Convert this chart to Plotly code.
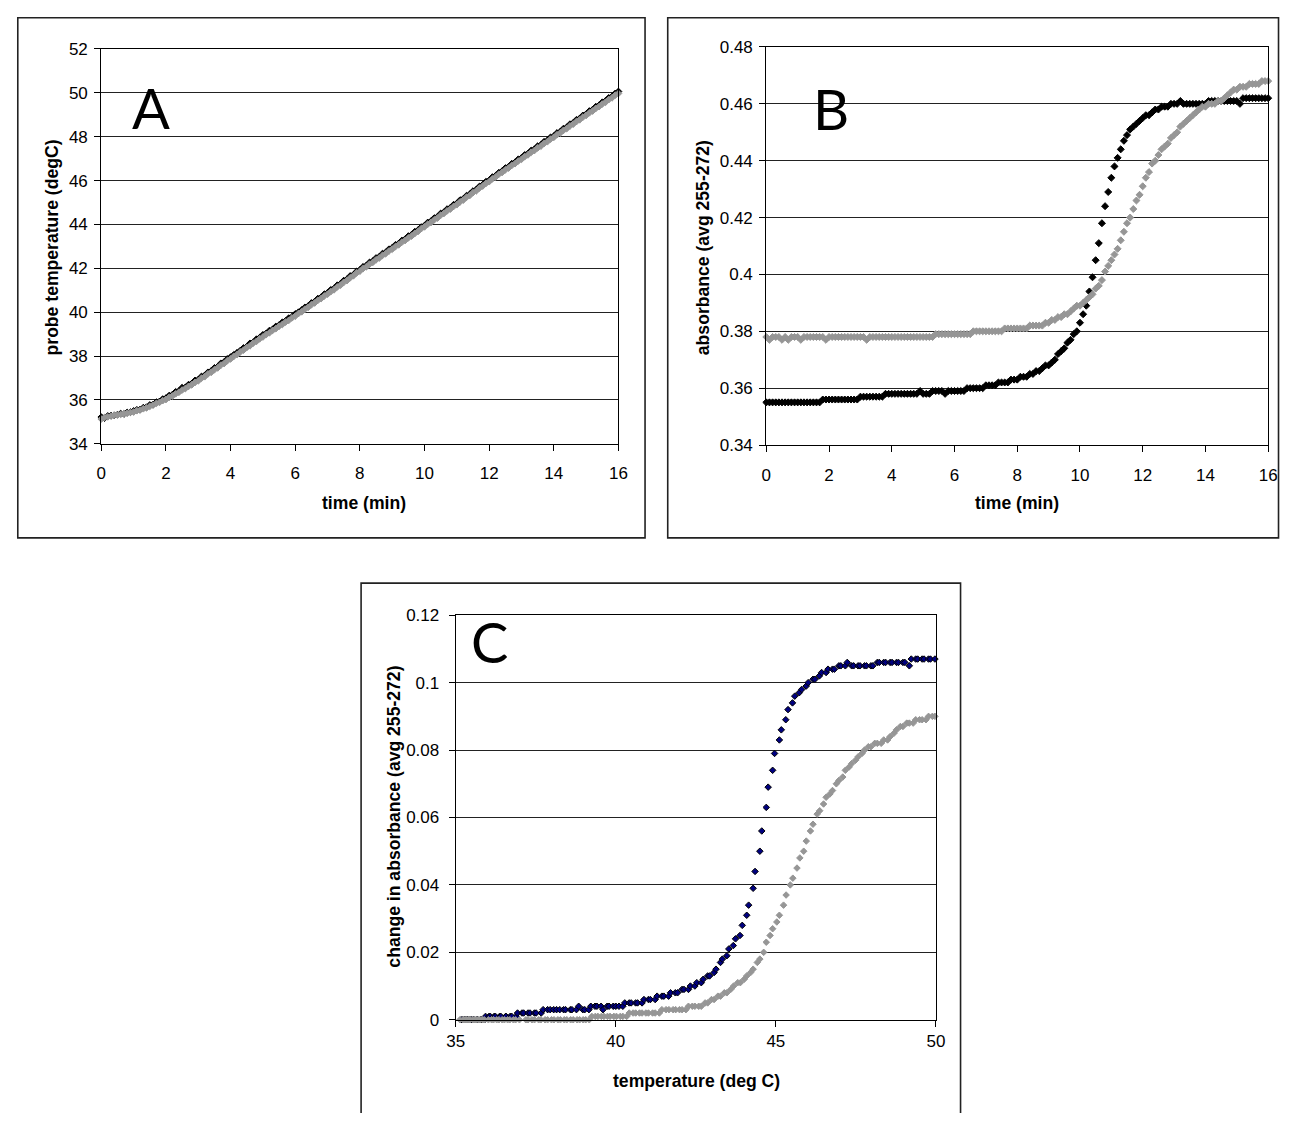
import plotly.graph_objects as go

# ---------------- data ----------------
TIME_MIN = [
    0.0, 0.1, 0.2, 0.3, 0.4, 0.5, 0.6, 0.7, 0.8, 0.9,
    1.0, 1.1, 1.2, 1.3, 1.4, 1.5, 1.6, 1.7, 1.8, 1.9,
    2.0, 2.1, 2.2, 2.3, 2.4, 2.5, 2.6, 2.7, 2.8, 2.9,
    3.0, 3.1, 3.2, 3.3, 3.4, 3.5, 3.6, 3.7, 3.8, 3.9,
    4.0, 4.1, 4.2, 4.3, 4.4, 4.5, 4.6, 4.7, 4.8, 4.9,
    5.0, 5.1, 5.2, 5.3, 5.4, 5.5, 5.6, 5.7, 5.8, 5.9,
    6.0, 6.1, 6.2, 6.3, 6.4, 6.5, 6.6, 6.7, 6.8, 6.9,
    7.0, 7.1, 7.2, 7.3, 7.4, 7.5, 7.6, 7.7, 7.8, 7.9,
    8.0, 8.1, 8.2, 8.3, 8.4, 8.5, 8.6, 8.7, 8.8, 8.9,
    9.0, 9.1, 9.2, 9.3, 9.4, 9.5, 9.6, 9.7, 9.8, 9.9,
    10.0, 10.1, 10.2, 10.3, 10.4, 10.5, 10.6, 10.7, 10.8, 10.9,
    11.0, 11.1, 11.2, 11.3, 11.4, 11.5, 11.6, 11.7, 11.8, 11.9,
    12.0, 12.1, 12.2, 12.3, 12.4, 12.5, 12.6, 12.7, 12.8, 12.9,
    13.0, 13.1, 13.2, 13.3, 13.4, 13.5, 13.6, 13.7, 13.8, 13.9,
    14.0, 14.1, 14.2, 14.3, 14.4, 14.5, 14.6, 14.7, 14.8, 14.9,
    15.0, 15.1, 15.2, 15.3, 15.4, 15.5, 15.6, 15.7, 15.8, 15.9,
    16.0,
]

# probe temperature (degC), black sample
TEMP_BLACK = [
    35.22, 35.17, 35.27, 35.29, 35.30, 35.33, 35.38, 35.36, 35.43, 35.45,
    35.50, 35.55, 35.57, 35.65, 35.67, 35.77, 35.79, 35.90, 35.93, 36.04,
    36.08, 36.20, 36.24, 36.37, 36.41, 36.56, 36.57, 36.70, 36.75, 36.89,
    36.93, 37.07, 37.12, 37.26, 37.32, 37.46, 37.51, 37.67, 37.73, 37.87,
    37.95, 38.06, 38.15, 38.25, 38.37, 38.43, 38.58, 38.63, 38.77, 38.84,
    38.97, 39.03, 39.16, 39.22, 39.35, 39.41, 39.54, 39.60, 39.73, 39.79,
    39.92, 40.00, 40.10, 40.22, 40.28, 40.42, 40.48, 40.62, 40.68, 40.82,
    40.88, 41.02, 41.08, 41.23, 41.29, 41.44, 41.50, 41.65, 41.71, 41.86,
    41.93, 42.07, 42.13, 42.27, 42.33, 42.47, 42.53, 42.67, 42.73, 42.87,
    42.93, 43.07, 43.13, 43.27, 43.33, 43.47, 43.53, 43.67, 43.74, 43.88,
    43.95, 44.09, 44.15, 44.29, 44.35, 44.50, 44.56, 44.70, 44.76, 44.90,
    44.96, 45.11, 45.17, 45.31, 45.38, 45.52, 45.59, 45.73, 45.81, 45.95,
    46.01, 46.16, 46.22, 46.36, 46.43, 46.57, 46.63, 46.77, 46.83, 46.97,
    47.03, 47.17, 47.23, 47.37, 47.43, 47.57, 47.63, 47.77, 47.83, 47.97,
    48.03, 48.17, 48.23, 48.37, 48.43, 48.57, 48.63, 48.77, 48.83, 48.97,
    49.03, 49.17, 49.23, 49.37, 49.43, 49.57, 49.63, 49.77, 49.83, 49.97,
    50.06,
]

# probe temperature (degC), grey sample
TEMP_GREY = [
    35.13, 35.20, 35.23, 35.26, 35.31, 35.31, 35.34, 35.38, 35.39, 35.43,
    35.45, 35.51, 35.54, 35.60, 35.64, 35.71, 35.76, 35.84, 35.89, 35.97,
    36.02, 36.12, 36.18, 36.28, 36.35, 36.45, 36.52, 36.62, 36.69, 36.80,
    36.87, 36.99, 37.06, 37.19, 37.26, 37.38, 37.46, 37.59, 37.66, 37.79,
    37.87, 37.99, 38.07, 38.19, 38.27, 38.39, 38.47, 38.59, 38.67, 38.79,
    38.87, 38.98, 39.06, 39.17, 39.25, 39.36, 39.44, 39.55, 39.63, 39.74,
    39.82, 39.94, 40.02, 40.14, 40.22, 40.34, 40.42, 40.54, 40.62, 40.74,
    40.82, 40.94, 41.02, 41.15, 41.23, 41.36, 41.44, 41.57, 41.66, 41.79,
    41.87, 41.99, 42.07, 42.19, 42.27, 42.39, 42.47, 42.59, 42.67, 42.79,
    42.87, 42.99, 43.07, 43.19, 43.27, 43.39, 43.47, 43.59, 43.68, 43.81,
    43.89, 44.01, 44.09, 44.21, 44.29, 44.42, 44.50, 44.62, 44.70, 44.82,
    44.90, 45.03, 45.11, 45.24, 45.32, 45.45, 45.53, 45.66, 45.75, 45.87,
    45.95, 46.08, 46.16, 46.29, 46.37, 46.49, 46.57, 46.69, 46.77, 46.89,
    46.97, 47.09, 47.17, 47.29, 47.37, 47.49, 47.57, 47.69, 47.77, 47.89,
    47.97, 48.09, 48.17, 48.29, 48.37, 48.49, 48.57, 48.69, 48.77, 48.89,
    48.97, 49.09, 49.17, 49.29, 49.37, 49.49, 49.57, 49.69, 49.77, 49.89,
    49.97,
]

# absorbance (avg 255-272) in milli-absorbance units, black sample
ABS_BLACK_MAU = [
    355, 355, 355, 355, 355, 355, 355, 355, 355, 355,
    355, 355, 355, 355, 355, 355, 355, 355, 356, 356,
    356, 356, 356, 356, 356, 356, 356, 356, 356, 356,
    357, 357, 357, 357, 357, 357, 357, 357, 358, 358,
    358, 358, 358, 358, 358, 358, 358, 358, 358, 359,
    358, 358, 358, 359, 359, 359, 359, 358, 359, 359,
    359, 359, 359, 359, 360, 360, 360, 360, 360, 360,
    361, 361, 361, 361, 362, 362, 362, 362, 363, 363,
    363, 364, 364, 364, 365, 365, 366, 366, 367, 368,
    368, 369, 370, 372, 373, 374, 376, 377, 379, 380,
    383, 386, 389, 394, 399, 405, 411, 418, 424, 429,
    434, 438, 441, 444, 447, 449, 451, 452, 453, 454,
    455, 456, 456, 457, 458, 458, 459, 459, 459, 460,
    460, 460, 461, 460, 460, 460, 460, 460, 460, 460,
    460, 461, 461, 461, 461, 461, 461, 461, 461, 461,
    461, 460, 462, 462, 462, 462, 462, 462, 462, 462,
    462,
]

# absorbance (avg 255-272) in milli-absorbance units, grey sample
ABS_GREY_MAU = [
    378, 377, 378, 378, 378, 377, 378, 377, 378, 378,
    378, 377, 378, 378, 378, 378, 378, 378, 378, 377,
    378, 378, 378, 378, 378, 378, 378, 378, 378, 378,
    378, 378, 377, 378, 378, 378, 378, 378, 378, 378,
    378, 378, 378, 378, 378, 378, 378, 378, 378, 378,
    378, 378, 378, 378, 379, 379, 379, 379, 379, 379,
    379, 379, 379, 379, 379, 379, 380, 380, 380, 380,
    380, 380, 380, 380, 380, 380, 381, 381, 381, 381,
    381, 381, 381, 381, 382, 382, 382, 382, 382, 383,
    383, 384, 384, 385, 385, 386, 386, 387, 388, 389,
    389, 390, 391, 392, 393, 395, 396, 398, 401, 403,
    405, 407, 409, 412, 415, 418, 420, 423, 426, 428,
    431, 434, 436, 439, 440, 442, 444, 445, 446, 448,
    449, 450, 452, 453, 454, 455, 456, 457, 458, 459,
    459, 460, 460, 460, 461, 461, 462, 463, 464, 465,
    465, 466, 466, 466, 467, 467, 467, 467, 468, 468,
    468,
]

ABS_BLACK = [v / 1000 for v in ABS_BLACK_MAU]
ABS_GREY = [v / 1000 for v in ABS_GREY_MAU]
# panel C: change in absorbance (relative to first reading) against probe temperature
DABS_BLACK = [(v - ABS_BLACK_MAU[0]) / 1000 for v in ABS_BLACK_MAU]
DABS_GREY = [(v - ABS_GREY_MAU[0]) / 1000 for v in ABS_GREY_MAU]

A_YTICKS = [34, 36, 38, 40, 42, 44, 46, 48, 50, 52]
B_YTICKS = [0.34, 0.36, 0.38, 0.40, 0.42, 0.44, 0.46, 0.48]
B_YTICKTEXT = ["0.34", "0.36", "0.38", "0.4", "0.42", "0.44", "0.46", "0.48"]
C_YTICKS = [0, 0.02, 0.04, 0.06, 0.08, 0.10, 0.12]
C_YTICKTEXT = ["0", "0.02", "0.04", "0.06", "0.08", "0.1", "0.12"]
TIME_TICKS = [0, 2, 4, 6, 8, 10, 12, 14, 16]
TEMP_TICKS = [35, 40, 45, 50]

# ---------------- layout helpers ----------------
# The page body keeps its default 8px margin, so the figure is sized to fill
# the 1297x1121 window exactly and window pixel positions are offset by 8px.
WIN_W, WIN_H, PAGE_MARGIN = 1297, 1121, 8
W, H = WIN_W - 2 * PAGE_MARGIN, WIN_H - 2 * PAGE_MARGIN
BLACK = "#000000"
GREY = "#969696"
NAVY = "#000080"
FONT = "Liberation Sans, Arial, sans-serif"


def fx(px):
    return (px - PAGE_MARGIN) / W


def fy(py):
    return 1 - (py - PAGE_MARGIN) / H


fig = go.Figure()


def add_series(x, y, xa, ya, fill, edge, size):
    fig.add_trace(go.Scatter(
        x=x, y=y, mode="markers", xaxis=xa, yaxis=ya,
        marker=dict(symbol="diamond", size=size, color=fill,
                    line=dict(color=edge, width=1)),
        cliponaxis=False, showlegend=False, hoverinfo="skip",
    ))


add_series(TIME_MIN, TEMP_BLACK, "x", "y", BLACK, BLACK, 5.2)
add_series(TIME_MIN, TEMP_GREY, "x", "y", GREY, GREY, 5.2)
add_series(TIME_MIN, ABS_BLACK, "x2", "y2", BLACK, BLACK, 5.4)
add_series(TIME_MIN, ABS_GREY, "x2", "y2", GREY, GREY, 5.4)
add_series(TEMP_BLACK, DABS_BLACK, "x3", "y3", NAVY, BLACK, 5.0)
add_series(TEMP_GREY, DABS_GREY, "x3", "y3", GREY, GREY, 5.0)

tickfont = dict(family=FONT, size=17, color=BLACK)
common = dict(showline=True, linecolor=BLACK, linewidth=1.2, mirror=True,
              ticks="outside", ticklen=6, tickcolor=BLACK, tickwidth=1,
              tickfont=tickfont, zeroline=False)

fig.update_layout(
    width=W, height=H, margin=dict(l=0, r=0, t=0, b=0),
    paper_bgcolor="white", plot_bgcolor="white", showlegend=False,
    xaxis=dict(domain=[fx(93.5), fx(618)], range=[0, 16], tickvals=TIME_TICKS,
               showgrid=False, anchor="y", ticklabelstandoff=8, **common),
    yaxis=dict(domain=[fy(442.3), fy(40.5)], range=[34, 52], tickvals=A_YTICKS,
               showgrid=True, gridcolor="#222222", gridwidth=1, anchor="x",
               ticklabelstandoff=3, **common),
    xaxis2=dict(domain=[fx(768), fx(1277)], range=[0, 16], tickvals=TIME_TICKS,
                showgrid=False, anchor="y2", ticklabelstandoff=8, **common),
    yaxis2=dict(domain=[fy(443.5), fy(38.5)], range=[0.34, 0.48], tickvals=B_YTICKS,
                ticktext=B_YTICKTEXT, showgrid=True, gridcolor="#222222", gridwidth=1,
                anchor="x2", ticklabelstandoff=3, **common),
    xaxis3=dict(domain=[fx(453), fx(940)], range=[35, 50], tickvals=TEMP_TICKS,
                showgrid=False, anchor="y3", ticklabelstandoff=0, **common),
    yaxis3=dict(domain=[fy(1028.3), fy(616.7)], range=[0, 0.12], tickvals=C_YTICKS,
                ticktext=C_YTICKTEXT, showgrid=True, gridcolor="#222222", gridwidth=1,
                anchor="x3", ticklabelstandoff=6, **common),
)

# panel frames (clamped to the drawable area)
for (x0, y0, x1, y1) in [(8.8, 8.8, 645, 538), (668, 8.8, 1287.5, 538), (357, 584, 965, 1140)]:
    fig.add_shape(type="rect", xref="paper", yref="paper",
                  x0=fx(x0), x1=fx(x1), y0=fy(y1), y1=fy(y0),
                  line=dict(color="#222222", width=1.6), fillcolor="rgba(0,0,0,0)",
                  layer="below")

titlefont = dict(family=FONT, size=17.6, color=BLACK)


def label(text, x, y, angle=0, font=titlefont):
    fig.add_annotation(text=text, x=fx(x), y=fy(y), xref="paper", yref="paper",
                       showarrow=False, textangle=angle, font=font,
                       xanchor="center", yanchor="middle")


label("<b>probe temperature (degC)</b>", 43, 243, -90)
label("<b>time (min)</b>", 360, 502)
label("<b>absorbance (avg 255-272)</b>", 704, 243, -90)
label("<b>time (min)</b>", 1022, 502)
label("<b>change in absorbance (avg 255-272)</b>", 390, 822, -90)
label("<b>temperature (deg C)</b>", 697, 1091)

bigfont = dict(family="Lato, Open Sans, sans-serif", size=56, color=BLACK)
label("A", 144, 100, font=bigfont)
label("B", 834, 101, font=bigfont)
label("C", 487, 643, font=bigfont)

fig.write_html("out.html", config={"displayModeBar": False})
